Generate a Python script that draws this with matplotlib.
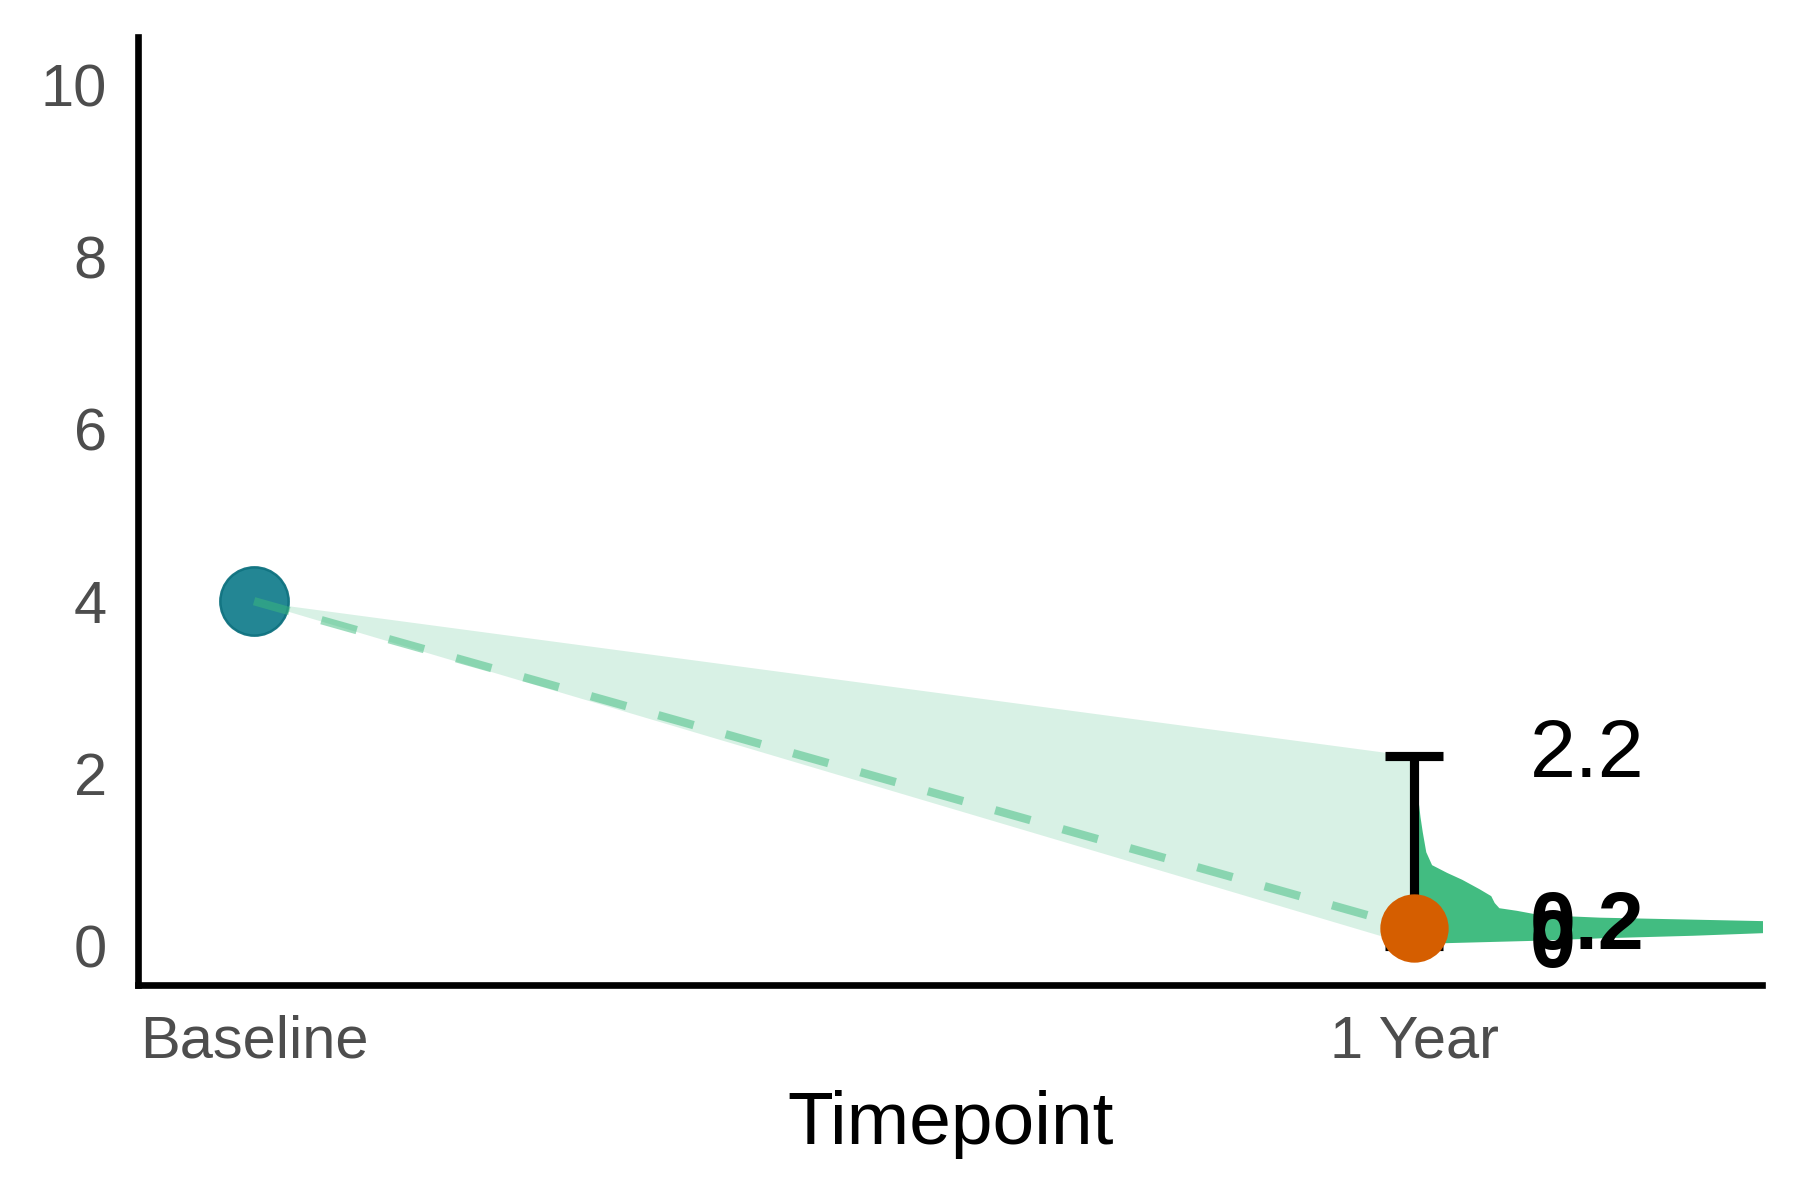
import numpy as np
import matplotlib
matplotlib.use("Agg")
import matplotlib.pyplot as plt

plt.rcParams['font.family'] = ['Liberation Sans', 'DejaVu Sans']

# data
timepoints = ["Baseline", "1 Year"]
x_pos = [0, 1]
baseline_mean = 4.0
year1_mean = 0.2
year1_ci_low = 0.0
year1_ci_high = 2.2
value_labels = ["2.2", "0.2", "0"]
label_y = [2.2, 0.2, 0.0]
label_bold = [False, True, True]

# half-violin outline of the 1 Year distribution (y value, width to the right)
violin_y = [0.02, 0.035, 0.06, 0.09, 0.12, 0.15, 0.21, 0.25, 0.29, 0.33, 0.36,
            0.41, 0.44, 0.50, 0.58, 0.66, 0.77, 0.85, 0.94, 1.09, 1.32, 1.50,
            1.62, 1.71, 1.78]
violin_w = [0.0, 0.03, 0.10, 0.16, 0.24, 0.30, 0.36, 0.33, 0.30, 0.16, 0.108,
            0.088, 0.073, 0.069, 0.066, 0.056, 0.041, 0.028, 0.015, 0.010, 0.007,
            0.005, 0.004, 0.003, 0.0]

green = '#3cba7d'
teal = '#17808e'
orange = '#d55e00'

fig, ax = plt.subplots(figsize=(6, 4), dpi=300)
fig.subplots_adjust(left=0.0767, right=0.979, bottom=0.179, top=0.969)

# shaded band from baseline to the 1 year interval
ax.fill_between(x_pos, [baseline_mean, year1_ci_low], [baseline_mean, year1_ci_high],
                color=green, alpha=0.2, linewidth=0, zorder=1)

ax.plot(x_pos[0], baseline_mean, 'o', color=teal, alpha=0.95, markersize=16.4,
        markeredgewidth=0.6, markeredgecolor='#0f7280', zorder=2)

ax.plot(x_pos, [baseline_mean, year1_mean], color=green, alpha=0.5, linewidth=2,
        dashes=(4.4, 4), zorder=3)

ax.fill_betweenx(violin_y, x_pos[1], x_pos[1] + np.array(violin_w),
                 color=green, alpha=0.97, linewidth=0, zorder=4)

ax.errorbar(x_pos[1], year1_mean,
            yerr=[[year1_mean - year1_ci_low], [year1_ci_high - year1_mean]],
            fmt='none', ecolor='black', elinewidth=2.2, capsize=7, capthick=2.2,
            zorder=5)

ax.plot(x_pos[1], year1_mean, 'o', color=orange, markersize=16.4,
        markeredgewidth=0, zorder=6)

for txt, y, bold in zip(value_labels, label_y, label_bold):
    ax.text(1.10, y, txt, ha='left', va='center', fontsize=19.8,
            fontweight='bold' if bold else 'normal', color='black', zorder=7)

ax.set_xlim(-0.1, 1.3)
ax.set_ylim(-0.46, 10.55)
ax.set_xticks(x_pos)
ax.set_xticklabels(timepoints)
ax.set_yticks([0, 2, 4, 6, 8, 10])
ax.tick_params(length=0, labelsize=14.3, labelcolor='#4d4d4d')
ax.tick_params(axis='y', pad=7.5)
ax.tick_params(axis='x', pad=7)
ax.set_xlabel("Timepoint", fontsize=18, labelpad=5)

for side in ['top', 'right']:
    ax.spines[side].set_visible(False)
for side in ['left', 'bottom']:
    ax.spines[side].set_linewidth(1.6)
    ax.spines[side].set_color('black')

fig.savefig("out.png", dpi=300)
